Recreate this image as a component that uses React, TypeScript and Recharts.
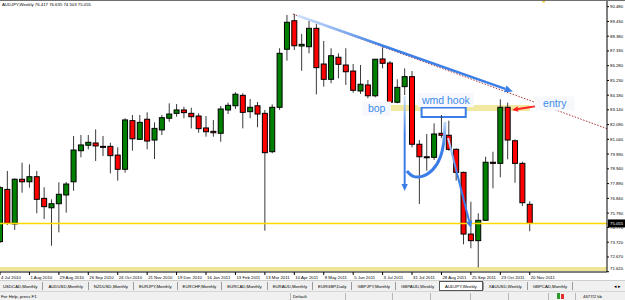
import React from 'react';
import { ComposedChart, Bar, Line, XAxis, YAxis, ReferenceLine, ReferenceArea, ReferenceDot } from 'recharts';

const symbolTitle = 'AUDJPY,Weekly';

// weekly candles, 4 Jul 2010 .. 20 Nov 2011
const opens = [73.76, 77.48, 75.02, 78.20, 78.02, 78.38, 76.84, 76.17, 76.46, 77.08, 78.02, 80.23, 80.62, 80.78, 80.54, 80.54, 79.92, 78.91, 82.37, 81.04, 82.47, 80.99, 81.71, 82.54, 82.89, 83.13, 82.89, 82.70, 81.85, 81.61, 81.47, 83.13, 83.43, 84.17, 83.01, 83.43, 82.89, 80.16, 83.32, 87.45, 89.48, 87.68, 87.63, 88.94, 86.40, 85.31, 86.88, 86.33, 85.90, 84.48, 84.91, 84.14, 86.76, 86.47, 83.68, 84.79, 85.50, 80.69, 79.80, 79.76, 81.47, 81.33, 80.33, 78.69, 74.30, 73.83, 75.28, 79.41, 79.33, 83.32, 80.94, 79.33, 76.417];
const highs = [77.72, 78.79, 78.27, 79.38, 79.26, 78.79, 77.63, 76.77, 77.98, 78.00, 81.28, 81.35, 81.35, 81.75, 81.28, 80.80, 80.47, 82.54, 82.77, 82.77, 82.96, 82.25, 82.77, 83.60, 83.55, 83.36, 83.29, 82.89, 82.70, 82.42, 83.41, 83.65, 84.39, 84.32, 83.91, 83.70, 83.13, 83.53, 87.52, 89.89, 89.96, 88.54, 89.48, 89.25, 88.04, 87.52, 87.16, 87.52, 86.40, 86.33, 85.26, 86.76, 87.59, 86.61, 85.31, 86.09, 85.90, 80.99, 81.42, 82.18, 82.77, 82.37, 80.40, 78.74, 76.60, 75.78, 79.80, 80.16, 83.89, 83.65, 81.04, 79.45, 76.635];
const lows = [73.66, 74.94, 74.59, 77.24, 77.60, 75.78, 75.37, 73.47, 74.42, 75.82, 77.38, 79.76, 80.33, 79.50, 79.85, 78.62, 78.10, 78.67, 80.23, 80.99, 80.33, 79.64, 81.35, 82.29, 82.65, 82.54, 81.82, 81.51, 81.23, 81.23, 80.87, 82.84, 83.20, 81.82, 82.54, 81.90, 74.54, 80.05, 83.13, 86.64, 87.40, 85.92, 87.16, 84.24, 84.79, 85.03, 85.38, 84.91, 84.36, 84.27, 83.96, 84.03, 86.09, 83.32, 83.60, 84.19, 80.47, 76.44, 78.81, 79.57, 81.14, 80.23, 78.10, 73.57, 73.29, 71.93, 75.23, 77.56, 78.34, 79.62, 77.95, 76.30, 74.503];
const closes = [77.60, 75.07, 78.20, 78.02, 78.38, 76.77, 76.25, 76.46, 77.13, 77.86, 80.28, 80.64, 80.83, 80.57, 80.53, 79.88, 78.91, 82.42, 81.08, 82.25, 80.92, 81.82, 82.58, 82.84, 83.13, 82.94, 82.65, 81.80, 81.58, 81.51, 83.20, 83.46, 84.25, 82.96, 83.32, 82.84, 80.09, 83.32, 87.16, 89.37, 87.70, 87.80, 88.94, 86.14, 85.31, 86.99, 86.38, 85.85, 84.53, 84.96, 84.14, 86.74, 86.45, 83.68, 84.74, 85.50, 80.69, 79.80, 79.73, 81.42, 81.33, 80.33, 78.69, 74.30, 73.83, 75.28, 79.41, 79.33, 83.32, 80.99, 79.33, 76.53, 75.055];

const dateLabels = ['4 Jul 2010', '1 Aug 2010', '29 Aug 2010', '26 Sep 2010', '24 Oct 2010', '21 Nov 2010', '19 Dec 2010', '16 Jan 2011', '13 Feb 2011', '13 Mar 2011', '10 Apr 2011', '8 May 2011', '5 Jun 2011', '3 Jul 2011', '31 Jul 2011', '28 Aug 2011', '25 Sep 2011', '23 Oct 2011', '20 Nov 2011'];
const dateTickIdx = dateLabels.map((_, k) => k * 4);

const priceTickLabels = ['90.480', '89.430', '88.380', '87.330', '86.280', '85.230', '84.180', '83.140', '82.090', '81.040', '79.990', '78.940', '77.890', '76.840', '75.790', '74.770', '73.720', '72.670', '71.620'];
const priceTicks = priceTickLabels.map(Number);

const lastPrice = 75.055;

// drawn objects (bar index, price)
const blueTrend = [{ i: 40.4, p: 89.85 }, { i: 69.7, p: 84.44 }];
const redTrend = [{ i: 39.8, p: 89.96 }, { i: 82.5, p: 81.80 }];
const downArrow = [{ i: 55.0, p: 84.12 }, { i: 55.0, p: 77.36 }];
const diagArrow = [{ i: 60.9, p: 81.14 }, { i: 64.0, p: 74.73 }];
const entryArrow = [{ i: 73.5, p: 83.45 }, { i: 69.6, p: 83.13 }];
const hookPts = [
  { i: 60.48, p: 82.27 }, { i: 60.41, p: 80.99 }, { i: 59.94, p: 79.71 }, { i: 58.85, p: 78.79 },
  { i: 57.35, p: 78.32 }, { i: 55.99, p: 78.36 }, { i: 55.31, p: 78.79 },
];
const bopBand = { i1: 52.9, i2: 72.0, p1: 83.06, p2: 83.48 };
const hookBox = { i1: 57.3, i2: 63.3, p1: 82.63, p2: 83.31 };
const floorBand = { p1: 71.67, p2: 71.95 };
const notes = [
  { text: 'bop', i: 51.2, p: 83.23 },
  { text: 'wmd hook', i: 60.6, p: 83.84 },
  { text: 'entry', i: 75.4, p: 83.59 },
];
const marker = { i: 73.9, p: 90.88 };

const tabs = ['USDCAD,Monthly', 'AUDUSD,Monthly', 'NZDUSD,Monthly', 'EURJPY,Monthly', 'EURCHF,Monthly', 'EURCAD,Monthly', 'EURAUD,Monthly', 'EURGBP,Daily', 'GBPJPY,Monthly', 'GBPAUD,Weekly', 'AUDJPY,Weekly', 'XAUUSD,Weekly', 'GBPCAD,Monthly'];

const rows = opens.map((o, i) => ({ i, o, h: highs[i], l: lows[i], c: closes[i], range: [lows[i], highs[i]] }));

const FONT = '"Liberation Sans", Arial, sans-serif';
const SMALL = 4.3;
const BODY_W = 5;

const Candle = (props: any) => {
  const { x, y, width, height, payload } = props;
  if (!payload || x == null) return null;
  const { o, h, l, c } = payload;
  const top = Math.min(y, y + height);
  const hh = Math.abs(height);
  const k = hh / ((h - l) || 1);
  const Y = (v: number) => top + (h - v) * k;
  const cx = x + (width || 0) / 2;
  const up = c >= o;
  const bt = Y(Math.max(o, c));
  const bb = Y(Math.min(o, c));
  return (
    <g>
      <line x1={cx} x2={cx} y1={Y(h)} y2={Y(l)} stroke="#3a3a3a" strokeWidth={1} />
      <rect x={cx - BODY_W / 2} y={bt} width={BODY_W} height={Math.max(bb - bt, 1)} fill={up ? '#008000' : '#ff0000'} stroke="#000" strokeWidth={1} />
    </g>
  );
};

const DateTick = (props: any) => {
  const { x, y, payload } = props;
  const idx = dateTickIdx.indexOf(payload.value);
  return (
    <text x={x + 1} y={y} dy="0.75em" fontSize={SMALL} fontFamily={FONT} fill="#000" textAnchor="start">
      {dateLabels[idx]}
    </text>
  );
};

const PriceTick = (props: any) => {
  const { x, y, payload } = props;
  const idx = priceTicks.indexOf(payload.value);
  return (
    <text x={x} y={Math.min(y, 268)} dy="0.35em" fontSize={SMALL} fontFamily={FONT} fill="#000" textAnchor="start">
      {priceTickLabels[idx]}
    </text>
  );
};

const PriceBox = (props: any) => {
  const vb = props.viewBox || {};
  const rx = vb.x + vb.width + 1;
  return (
    <g>
      <rect x={rx} y={vb.y - 4} width={18} height={8} fill="#000" />
      <text x={rx + 2} y={vb.y} dy="0.35em" fontSize={SMALL} fontFamily={FONT} fill="#fff">{lastPrice.toFixed(3)}</text>
    </g>
  );
};

const Arrow = (props: any) => {
  const { x1, y1, x2, y2, color, light, w, head, id, extraDefs } = props;
  if (x1 == null) return null;
  const dx = x2 - x1, dy = y2 - y1;
  const len = Math.hypot(dx, dy) || 1;
  const ux = dx / len, uy = dy / len;
  const bx = x2 - ux * head, by = y2 - uy * head;
  const px = -uy * head * 0.45, py = ux * head * 0.45;
  return (
    <g>
      <defs>
        <linearGradient id={id} gradientUnits="userSpaceOnUse" x1={x1} y1={y1} x2={x2} y2={y2}>
          <stop offset="0" stopColor={light} />
          <stop offset="0.4" stopColor={color} />
          <stop offset="1" stopColor={color} />
        </linearGradient>
        {extraDefs}
      </defs>
      <line x1={x1} y1={y1} x2={bx} y2={by} stroke={`url(#${id})`} strokeWidth={w} />
      <polygon points={`${x2},${y2} ${bx + px},${by + py} ${bx - px},${by - py}`} fill={color} />
    </g>
  );
};

const Note = (props: any) => {
  const { cx, cy, text } = props;
  if (cx == null) return null;
  const w = text.length * 5.5 + 12;
  return (
    <g>
      <rect x={cx - w / 2} y={cy - 7} width={w} height={14} fill="#f6f8fc" />
      <text x={cx} y={cy} dy="0.35em" textAnchor="middle" fontSize={10.5} fontFamily={FONT} fill="#3d8be8">{text}</text>
    </g>
  );
};

const PriceLine = (props: any) => {
  const { x1, y1, x2, y2 } = props;
  if (x1 == null) return null;
  return <line x1={x1} y1={y1} x2={x2} y2={y2} stroke="#ffd800" strokeWidth={1.4} />;
};

const hookDefs = (
  <linearGradient id="hookGrad" x1="0" y1="0" x2="0" y2="1">
    <stop offset="0" stopColor="#c4dbfb" />
    <stop offset="0.45" stopColor="#3a7de8" />
    <stop offset="1" stopColor="#3a7de8" />
  </linearGradient>
);

const seg = (a: { i: number; p: number }[]) => [{ x: a[0].i, y: a[0].p }, { x: a[1].i, y: a[1].p }] as any;

export default function App() {
  const last = rows[rows.length - 1];
  return (
    <div style={{ position: 'absolute', left: 0, top: 0, width: 625, height: 300, overflow: 'hidden', background: '#fff', fontFamily: FONT }}>
      <div style={{ position: 'absolute', left: 0, top: 0 }}>
        <ComposedChart width={625} height={283} data={rows} margin={{ top: 0, right: 0, bottom: 0, left: 0 }}>
          <XAxis dataKey="i" type="number" domain={[0, 82.5]} allowDataOverflow ticks={dateTickIdx} interval={0} height={11}
            tickSize={3} tickMargin={1} axisLine={{ stroke: '#000' }} tickLine={{ stroke: '#000' }} tick={<DateTick />} />
          <YAxis orientation="right" type="number" domain={[71.6, 90.955]} allowDataOverflow ticks={priceTicks} interval={0} width={18}
            tickSize={2} tickMargin={1} axisLine={{ stroke: '#000' }} tickLine={{ stroke: '#000' }} tick={<PriceTick />} />
          <ReferenceArea y1={floorBand.p1} y2={floorBand.p2} fill="#eee596" fillOpacity={1} stroke="none" ifOverflow="hidden" />
          <ReferenceArea x1={bopBand.i1} x2={bopBand.i2} y1={bopBand.p1} y2={bopBand.p2} fill="#ebe078" fillOpacity={0.7} stroke="none" />
          <ReferenceArea x1={hookBox.i1} x2={hookBox.i2} y1={hookBox.p1} y2={hookBox.p2} fill="#ffffff" fillOpacity={1} stroke="#3a7de8" strokeWidth={2} />
          <ReferenceLine y={lastPrice} shape={<PriceLine />} label={<PriceBox />} />
          <ReferenceLine segment={seg(redTrend)} stroke="#b03434" strokeWidth={1} strokeDasharray="1.5 1.5" ifOverflow="hidden" />
          <Bar dataKey="range" barSize={6} shape={<Candle />} isAnimationActive={false} />
          <ReferenceLine segment={seg(blueTrend)} ifOverflow="visible"
            shape={(p: any) => <Arrow {...p} color="#3a7fe8" light="#d3e3fb" w={2.5} head={8} id="gTrend" />} />
          <ReferenceLine segment={seg(downArrow)} ifOverflow="visible"
            shape={(p: any) => <Arrow {...p} color="#3a7de8" light="#d3e3fb" w={2} head={7} id="gDown" extraDefs={hookDefs} />} />
          <ReferenceLine segment={seg(diagArrow)} ifOverflow="visible"
            shape={(p: any) => <Arrow {...p} color="#3a7de8" light="#c8dcfb" w={2} head={7} id="gDiag" />} />
          <ReferenceLine segment={seg(entryArrow)} ifOverflow="visible"
            shape={(p: any) => <Arrow {...p} color="#ff2020" light="#ff7070" w={2} head={6} id="gEntry" />} />
          <Line data={hookPts} dataKey="p" type="basis" stroke="url(#hookGrad)" strokeWidth={3} dot={false} activeDot={false} isAnimationActive={false} />
          {notes.map((n) => (
            <ReferenceDot key={n.text} x={n.i} y={n.p} ifOverflow="visible" shape={(p: any) => <Note {...p} text={n.text} />} />
          ))}
          <ReferenceDot x={marker.i} y={marker.p} r={1.5} fill="#f3c21b" stroke="none" />
        </ComposedChart>
      </div>
      <div style={{ position: 'absolute', left: 0, top: 0, width: 625, height: 1, background: '#6f6f6f' }} />
      <div style={{ position: 'absolute', left: 2, top: 1.5, fontSize: SMALL, lineHeight: '5px', color: '#000', whiteSpace: 'nowrap' }}>
        {`${symbolTitle}  ${last.o.toFixed(3)} ${last.h.toFixed(3)} ${last.l.toFixed(3)} ${last.c.toFixed(3)}`}
      </div>
      {/* tab bar */}
      <div style={{ position: 'absolute', left: 0, top: 280, width: 625, height: 11, background: '#f0f0f0', borderTop: '1px solid #cfcfcf', boxSizing: 'border-box', display: 'flex', alignItems: 'stretch', paddingLeft: 0 }}>
        {tabs.map((t, k) => {
          const active = t === symbolTitle;
          return (
            <div key={t} style={{
              display: 'flex', alignItems: 'center', fontSize: SMALL, color: '#000', whiteSpace: 'nowrap',
              padding: '0 5px', marginLeft: k === 0 ? -2 : 0,
              background: active ? '#fff' : 'transparent',
              border: active ? '1px solid #555' : 'none',
              borderLeft: active ? '1px solid #555' : (k === 0 ? 'none' : '1px solid #9a9a9a'),
              boxSizing: 'border-box', height: active ? 10 : 8, marginTop: active ? 0 : 1,
            }}>{t}</div>
          );
        })}
        <div style={{ borderLeft: '1px solid #9a9a9a', height: 8, marginTop: 1 }} />
        <div style={{ position: 'absolute', right: 4, top: 2, fontSize: 5, color: '#000' }}>◂ ▸</div>
      </div>
      {/* status bar */}
      <div style={{ position: 'absolute', left: 0, top: 291, width: 625, height: 9, background: '#f0f0f0', borderTop: '1px solid #d6d6d6', boxSizing: 'border-box' }}>
        <div style={{ position: 'absolute', left: 1, top: 2, fontSize: SMALL, whiteSpace: 'nowrap' }}>For Help, press F1</div>
        <div style={{ position: 'absolute', left: 293, top: 2, fontSize: SMALL, whiteSpace: 'nowrap' }}>Default</div>
        {[290, 345, 392, 430, 470, 508, 548, 575].map((sx) => (
          <div key={sx} style={{ position: 'absolute', left: sx, top: 1, width: 1, height: 7, background: '#b8b8b8' }} />
        ))}
        <div style={{ position: 'absolute', left: 557, top: 1, width: 3, height: 6, background: '#2e9a2e' }} />
        <div style={{ position: 'absolute', left: 561, top: 2, width: 3, height: 5, background: '#e03030' }} />
        <div style={{ position: 'absolute', left: 583, top: 2, fontSize: SMALL, whiteSpace: 'nowrap' }}>4677/2 kb</div>
      </div>
    </div>
  );
}
